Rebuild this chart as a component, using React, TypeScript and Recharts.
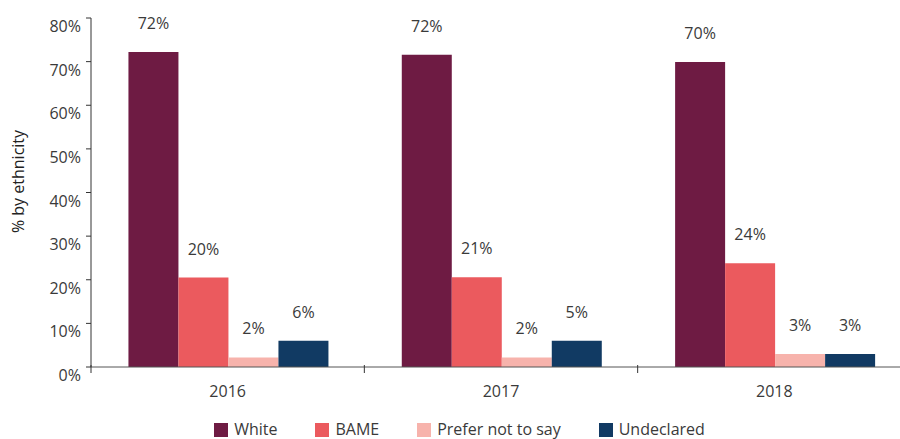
import { BarChart, Bar, XAxis, YAxis, Legend, LabelList } from "recharts";

const years = ["2016", "2017", "2018"];
const white = [72.2, 71.6, 69.9];
const bame = [20.5, 20.6, 23.8];
const preferNot = [2.2, 2.2, 3.0];
const undeclared = [6.0, 6.0, 3.0];
const whiteLabels = ["72%", "72%", "70%"];
const bameLabels = ["20%", "21%", "24%"];
const preferLabels = ["2%", "2%", "3%"];
const undeclaredLabels = ["6%", "5%", "3%"];
const yTicks = [0, 10, 20, 30, 40, 50, 60, 70, 80];

const FONT = "'Open Sans', Lato, sans-serif";
const TEXT = "#3a3a3a";

const series = [
  { key: "white", name: "White", color: "#6E1B43", labels: whiteLabels },
  { key: "bame", name: "BAME", color: "#EB5A5E", labels: bameLabels },
  { key: "prefer", name: "Prefer not to say", color: "#F7B3AC", labels: preferLabels },
  { key: "undeclared", name: "Undeclared", color: "#113A63", labels: undeclaredLabels },
];

const data = years.map((y, i) => ({
  year: y,
  white: white[i],
  bame: bame[i],
  prefer: preferNot[i],
  undeclared: undeclared[i],
}));

function YTick(props: any) {
  const { x, y, payload } = props;
  return (
    <text x={x} y={y + 8} textAnchor="end" dominantBaseline="central" fill={TEXT} fontSize={16} fontFamily={FONT}>
      {payload.value}%
    </text>
  );
}

function XTick(props: any) {
  const { x, y, payload, index } = props;
  const half = payload.offset || 0;
  return (
    <g>
      <line x1={x - half} x2={x - half} y1={y - 10} y2={y - 2} stroke="#333" />
      {index === years.length - 1 && (
        <line x1={x + half} x2={x + half} y1={y - 10} y2={y - 2} stroke="#333" />
      )}
      <text x={x} y={y + 16} textAnchor="middle" dominantBaseline="central" fill={TEXT} fontSize={16} fontFamily={FONT}>
        {payload.value}
      </text>
    </g>
  );
}

function makeLabel(labels: string[]) {
  return (props: any) => {
    const { x, y, width, index } = props;
    return (
      <text x={x + width / 2} y={y - 29} textAnchor="middle" dominantBaseline="central" fill={TEXT} fontSize={16} fontFamily={FONT}>
        {labels[index]}
      </text>
    );
  };
}

function YTitle(props: any) {
  const { viewBox } = props;
  const cy = viewBox.y + viewBox.height / 2 - 11;
  return (
    <text
      x={18}
      y={cy}
      transform={`rotate(-90, 18, ${cy})`}
      textAnchor="middle"
      dominantBaseline="central"
      fill="#222"
      fontSize={16}
      fontFamily={FONT}
    >
      % by ethnicity
    </text>
  );
}

function LegendContent() {
  return (
    <div style={{ display: "flex", justifyContent: "center", fontFamily: FONT, fontSize: 16, lineHeight: "17px", color: TEXT }}>
      {series.map((s, i) => (
        <div key={s.key} style={{ display: "flex", alignItems: "center", marginLeft: i === 0 ? 0 : 38 }}>
          <span style={{ width: 14, height: 14, background: s.color, display: "inline-block", marginRight: 6 }} />
          <span>{s.name}</span>
        </div>
      ))}
    </div>
  );
}

export default function App() {
  return (
    <div style={{ position: "absolute", left: 0, top: 0, width: 900, height: 439, overflow: "hidden", background: "#fff" }}>
      <BarChart
        width={920}
        height={439}
        data={data}
        margin={{ top: 18, right: 9, left: 0, bottom: 0 }}
        barCategoryGap="13.7%"
        barGap={0}
      >
        <YAxis
          width={91}
          domain={[0, 80]}
          ticks={yTicks}
          interval={0}
          axisLine={{ stroke: "#333" }}
          tickLine={{ stroke: "#333" }}
          tickSize={5}
          tickMargin={5}
          tick={<YTick />}
          label={<YTitle />}
        />
        <XAxis
          dataKey="year"
          height={72}
          axisLine={{ stroke: "#555" }}
          tickLine={false}
          interval={0}
          tick={<XTick />}
        />
        <Legend
          verticalAlign="middle"
          align="center"
          layout="horizontal"
          wrapperStyle={{ top: 421, left: 0, width: 919 }}
          content={<LegendContent />}
        />
        {series.map((s) => (
          <Bar key={s.key} dataKey={s.key} name={s.name} fill={s.color} isAnimationActive={false}>
            <LabelList content={makeLabel(s.labels)} />
          </Bar>
        ))}
      </BarChart>
    </div>
  );
}
